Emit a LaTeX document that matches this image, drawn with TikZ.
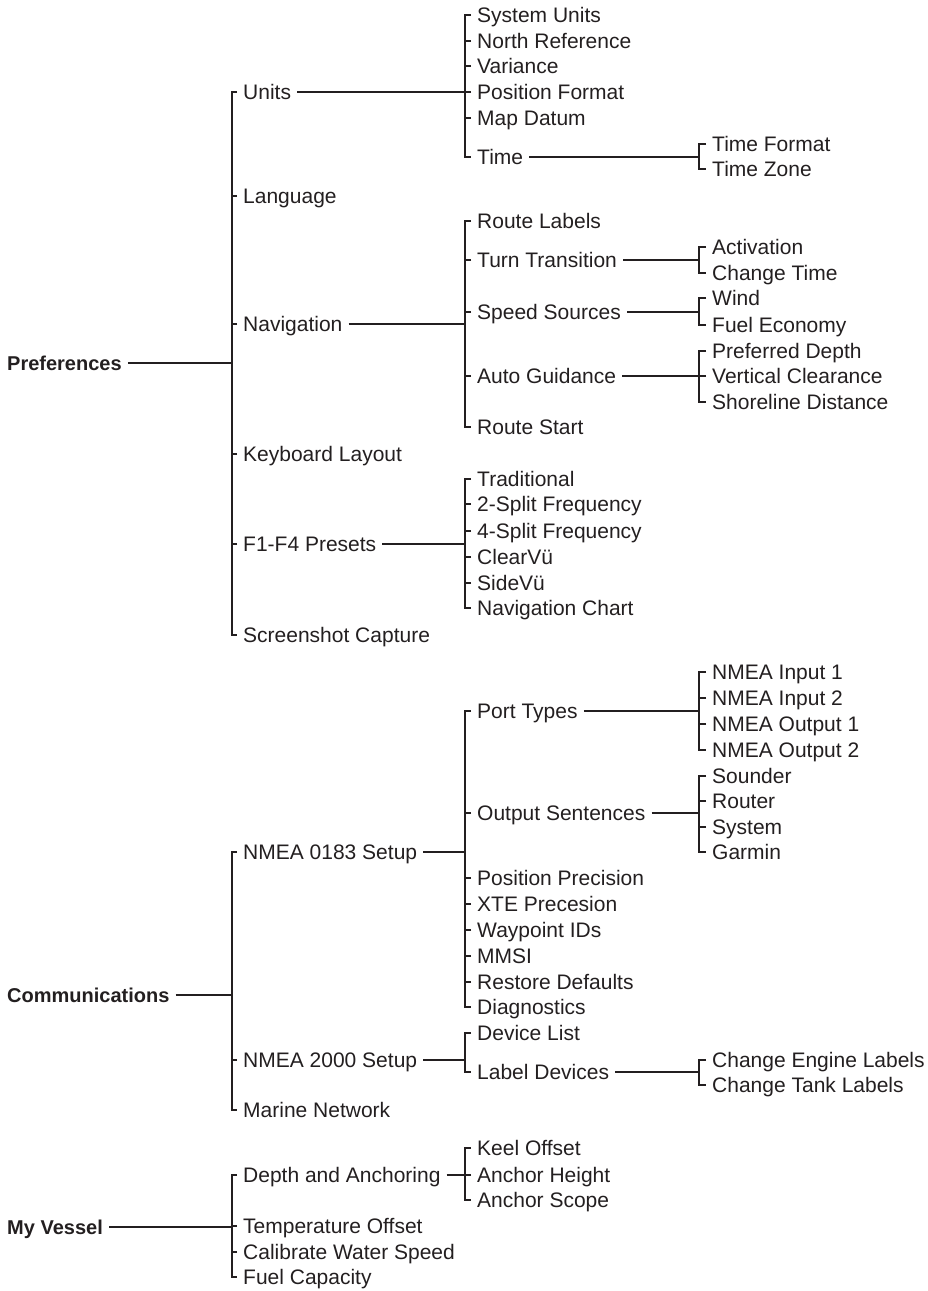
\documentclass[tikz,border=0pt]{standalone}
\usepackage{fontspec}
\setmainfont{Liberation Sans}
\definecolor{ink}{HTML}{231F20}

\begin{document}
\begin{tikzpicture}[x=1pt,y=-1pt,
    item/.style={anchor=west, inner xsep=6pt, inner ysep=0pt, text height=15pt, text depth=0pt,
                 font=\fontsize{21}{25}\selectfont, text=ink},
    head/.style={item, font=\fontsize{20}{24}\selectfont\bfseries},
    link/.style={draw=ink, line width=1.5pt}]
    \useasboundingbox (0,0) rectangle (927,1291);

    % bracket columns
    \coordinate (b1) at (232,0);
    \coordinate (b2) at (465,0);
    \coordinate (b3) at (699,0);

    % main menus
    \node[head] (pref)   at (1,363)  {Preferences};
    \node[head] (comm)   at (1,995)  {Communications};
    \node[head] (vessel) at (1,1227) {My Vessel};

    % first level
    \node[item] (units)  at (237,92)   {Units};
    \node[item] (lang)   at (237,196)  {Language};
    \node[item] (navi)   at (237,324)  {Navigation};
    \node[item] (keyb)   at (237,454)  {Keyboard Layout};
    \node[item] (fkeys)  at (237,544)  {F1-F4 Presets};
    \node[item] (shot)   at (237,635)  {Screenshot Capture};
    \node[item] (n0183)  at (237,852)  {NMEA 0183 Setup};
    \node[item] (n2000)  at (237,1060) {NMEA 2000 Setup};
    \node[item] (marine) at (237,1110) {Marine Network};
    \node[item] (depth)  at (237,1175) {Depth and Anchoring};
    \node[item] (temp)   at (237,1226) {Temperature Offset};
    \node[item] (calib)  at (237,1252) {Calibrate Water Speed};
    \node[item] (fuel)   at (237,1277) {Fuel Capacity};

    % second level
    \node[item] (sysu)     at (471,15)   {System Units};
    \node[item] (north)    at (471,41)   {North Reference};
    \node[item] (vari)     at (471,66)   {Variance};
    \node[item] (posf)     at (471,92)   {Position Format};
    \node[item] (datum)    at (471,118)  {Map Datum};
    \node[item] (time)     at (471,157)  {Time};
    \node[item] (rlab)     at (471,221)  {Route Labels};
    \node[item] (turn)     at (471,260)  {Turn Transition};
    \node[item] (speed)    at (471,312)  {Speed Sources};
    \node[item] (guide)    at (471,376)  {Auto Guidance};
    \node[item] (rstart)   at (471,427)  {Route Start};
    \node[item] (trad)     at (471,479)  {Traditional};
    \node[item] (splitA)   at (471,504)  {2-Split Frequency};
    \node[item] (splitB)   at (471,531)  {4-Split Frequency};
    \node[item] (clear)    at (471,557)  {ClearVü};
    \node[item] (side)     at (471,583)  {SideVü};
    \node[item] (navchart) at (471,608)  {Navigation Chart};
    \node[item] (ports)    at (471,711)  {Port Types};
    \node[item] (outs)     at (471,813)  {Output Sentences};
    \node[item] (pprec)    at (471,878)  {Position Precision};
    \node[item] (xte)      at (471,904)  {XTE Precesion};
    \node[item] (wpid)     at (471,930)  {Waypoint IDs};
    \node[item] (mmsi)     at (471,956)  {MMSI};
    \node[item] (restore)  at (471,982)  {Restore Defaults};
    \node[item] (diag)     at (471,1007) {Diagnostics};
    \node[item] (devlist)  at (471,1033) {Device List};
    \node[item] (labdev)   at (471,1072) {Label Devices};
    \node[item] (keel)     at (471,1148) {Keel Offset};
    \node[item] (ahgt)     at (471,1175) {Anchor Height};
    \node[item] (ascope)   at (471,1200) {Anchor Scope};

    % third level
    \node[item] (tfmt)    at (706,144)  {Time Format};
    \node[item] (tzone)   at (706,169)  {Time Zone};
    \node[item] (activ)   at (706,247)  {Activation};
    \node[item] (chtime)  at (706,273)  {Change Time};
    \node[item] (wind)    at (706,298)  {Wind};
    \node[item] (fueleco) at (706,325)  {Fuel Economy};
    \node[item] (prefd)   at (706,351)  {Preferred Depth};
    \node[item] (vclear)  at (706,376)  {Vertical Clearance};
    \node[item] (shore)   at (706,402)  {Shoreline Distance};
    \node[item] (in1)     at (706,672)  {NMEA Input 1};
    \node[item] (in2)     at (706,698)  {NMEA Input 2};
    \node[item] (out1)    at (706,724)  {NMEA Output 1};
    \node[item] (out2)    at (706,750)  {NMEA Output 2};
    \node[item] (sounder) at (706,776)  {Sounder};
    \node[item] (router)  at (706,801)  {Router};
    \node[item] (system)  at (706,827)  {System};
    \node[item] (garmin)  at (706,852)  {Garmin};
    \node[item] (engine)  at (706,1060) {Change Engine Labels};
    \node[item] (tank)    at (706,1085) {Change Tank Labels};

    % brackets: parent, first, last, middle ones
    \foreach \p/\a/\z/\m/\b in {
        pref/units/shot/{lang,navi,keyb,fkeys}/b1,
        comm/n0183/marine/{n2000}/b1,
        vessel/depth/fuel/{temp,calib}/b1,
        units/sysu/time/{north,vari,posf,datum}/b2,
        navi/rlab/rstart/{turn,speed,guide}/b2,
        fkeys/trad/navchart/{splitA,splitB,clear,side}/b2,
        n0183/ports/diag/{outs,pprec,xte,wpid,mmsi,restore}/b2,
        n2000/devlist/labdev/{}/b2,
        depth/keel/ascope/{ahgt}/b2,
        time/tfmt/tzone/{}/b3,
        turn/activ/chtime/{}/b3,
        speed/wind/fueleco/{}/b3,
        guide/prefd/shore/{vclear}/b3,
        ports/in1/out2/{in2,out1}/b3,
        outs/sounder/garmin/{router,system}/b3,
        labdev/engine/tank/{}/b3} {
        \draw[link] (\p.east) -- (\p.east -| \b);
        \draw[link] (\a.west) -- (\a.west -| \b) -- (\z.west -| \b) -- (\z.west);
        \foreach \n in \m
            \draw[link] (\n.west) -- (\n.west -| \b);
    }
\end{tikzpicture}
\end{document}
